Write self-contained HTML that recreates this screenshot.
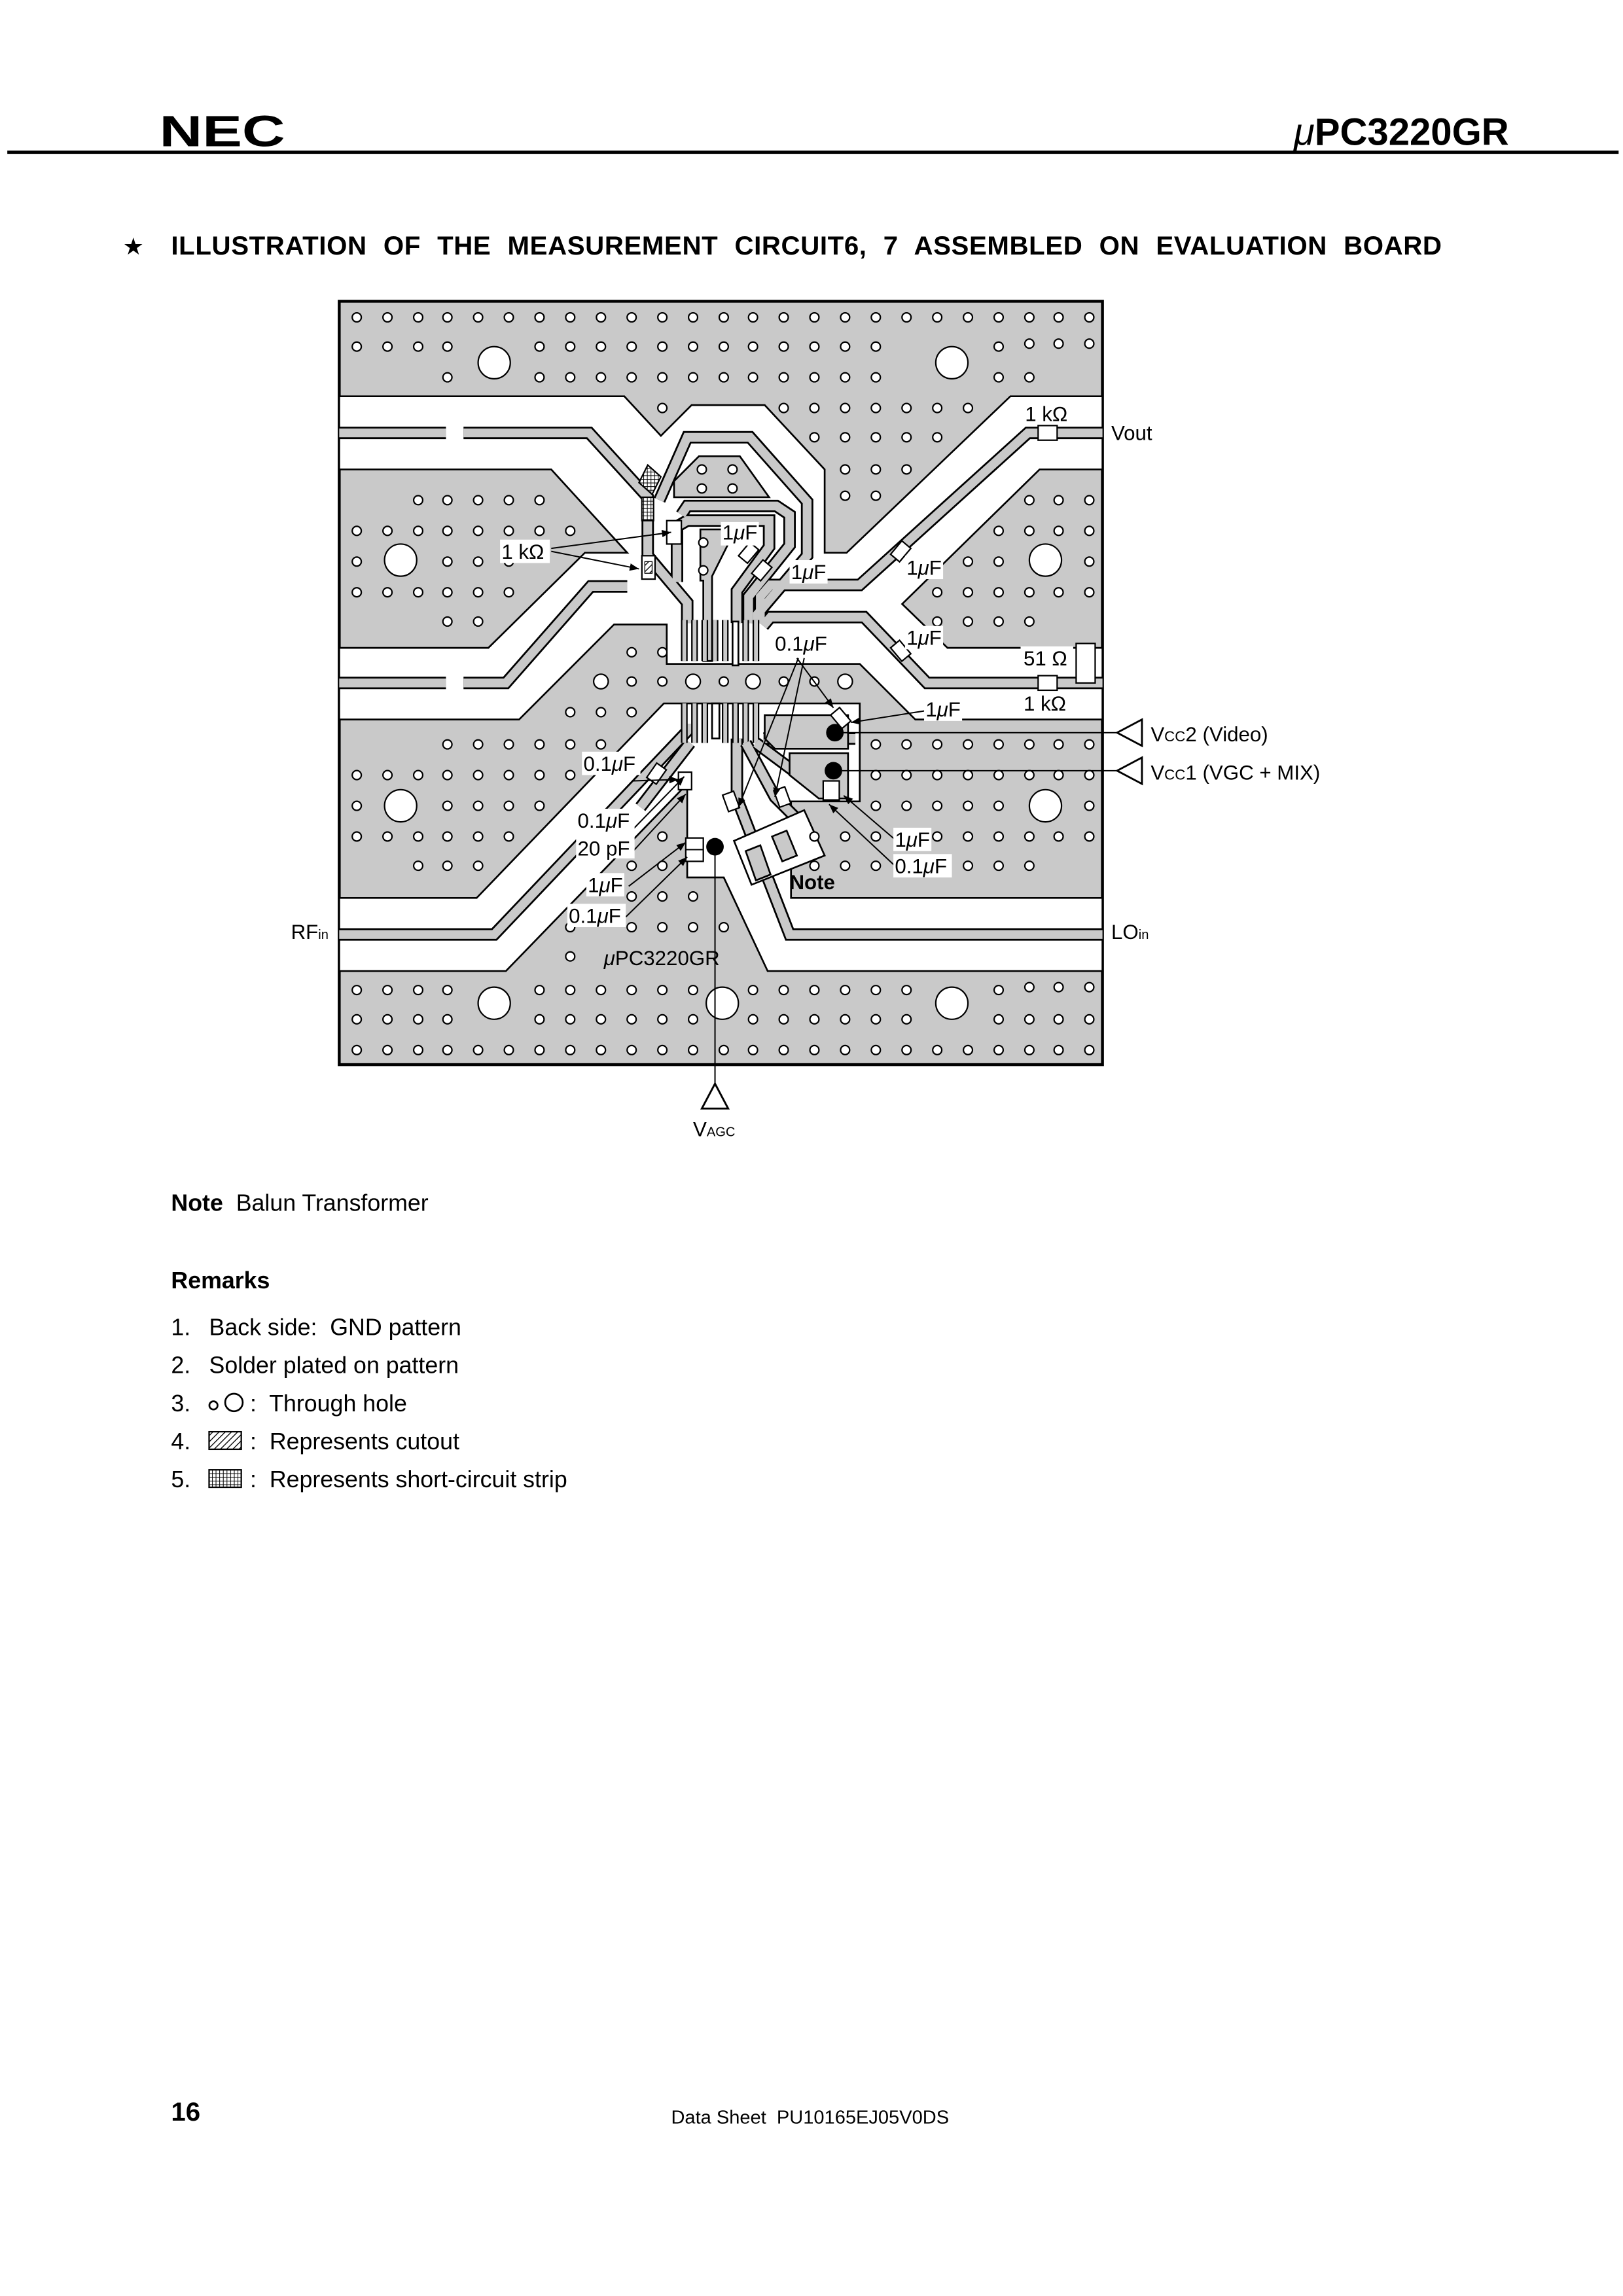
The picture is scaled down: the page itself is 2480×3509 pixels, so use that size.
<!DOCTYPE html>
<html><head><meta charset="utf-8"><style>
html,body{margin:0;padding:0;background:#fff}
svg{display:block}
text{font-family:"Liberation Sans",Arial,sans-serif;fill:#000;white-space:pre}
.g{fill:#c9c9c9;stroke:#000;stroke-width:1.2}
.w{fill:#fff;stroke:#000;stroke-width:1.2}
.h{fill:#fff;stroke:#000;stroke-width:1}
.tb{fill:none;stroke:#000;stroke-width:8.5;stroke-linejoin:miter}
.tg{fill:none;stroke:#c9c9c9;stroke-width:6;stroke-linejoin:miter}
.pb{fill:none;stroke:#000;stroke-width:4.6}
.pg{fill:none;stroke:#c9c9c9;stroke-width:2.6}
.c{fill:#fff;stroke:#000;stroke-width:1}
.ln{fill:none;stroke:#000;stroke-width:0.9}
.lb{font-size:14px}
.lw{fill:#fff}
</style></head><body>
<svg width="2480" height="3509" viewBox="0 0 1110 1570" preserveAspectRatio="none" xmlns="http://www.w3.org/2000/svg" xml:space="preserve">
<defs>
<pattern id="hat" width="3" height="3" patternUnits="userSpaceOnUse" patternTransform="rotate(45)"><rect width="3" height="3" fill="#fff"/><line x1="0" y1="0" x2="0" y2="3" stroke="#000" stroke-width="1.2"/></pattern>
<pattern id="xh" width="2.5" height="2.5" patternUnits="userSpaceOnUse"><rect width="2.5" height="2.5" fill="#fff"/><path d="M0 0H2.5M0 0V2.5" stroke="#000" stroke-width="0.9"/></pattern>
<marker id="ar" viewBox="0 0 10 10" refX="10" refY="5" markerWidth="7" markerHeight="7" orient="auto"><path d="M0 1L10 5L0 9z" fill="#000"/></marker>
<circle id="o" r="3.1" class="h"/>
<circle id="m" r="5" class="h"/>
</defs>

<!-- header -->
<text x="109" y="100" style="font-size:30px;font-weight:bold" textLength="86" lengthAdjust="spacingAndGlyphs">NEC</text>
<text x="1032" y="99" text-anchor="end" style="font-size:26px;font-weight:bold"><tspan font-style="italic" font-weight="normal">μ</tspan>PC3220GR</text>
<rect x="5" y="103" width="1102" height="2.2" fill="#000"/>
<text x="84" y="174" style="font-size:16px">★</text>
<text x="117" y="174" style="font-size:18px;font-weight:bold;word-spacing:6px" textLength="869">ILLUSTRATION OF THE MEASUREMENT CIRCUIT6, 7 ASSEMBLED ON EVALUATION BOARD</text>

<!-- board -->
<rect x="232" y="206" width="522" height="522" class="g" style="stroke-width:2"/>
<path class="w" d="M232 271H427L452 298L473 277H523L564 321V378H579L691 271H754V321H711L617 413L648 443H754V492H626L588 454H456V427H420L355 492H232V443H334L400 378H429L377 321H232Z"/>
<path class="g" d="M461 340V329L478 312H506L526 340Z"/>
<path class="w" d="M232 614H326L454 481H588V548H541V614H754V664H525L495 600H470V536L346 664H232Z"/>
<path class="g" d="M479 362H498V372L487 394V452H481V397H479Z"/>

<!-- traces -->
<g class="tb">
<path d="M232 296H305"/><path d="M317 296H403L443 340V380L470 412V426"/>
<path d="M451 342L470 299H513L552 343V380L518 420V426"/>
<path d="M466 352L470 346H531L540 352V373L512 408V426"/>
<path d="M463 398V360L470 356H526V374L504 404V426"/>
<path d="M754 296H703L588 400H527L520 408V426"/>
<path d="M754 467H634L591 422H527L522 428"/>
<path d="M232 467H305"/><path d="M317 467H346L404 401H429"/>
<path d="M232 639H338L470 500V495"/>
<path d="M754 639H540L504 546V505"/>
<path d="M438 552L472 508"/>
</g>
<g class="tg">
<path d="M232 296H305"/><path d="M317 296H403L443 340V380L470 412V426"/>
<path d="M451 342L470 299H513L552 343V380L518 420V426"/>
<path d="M466 352L470 346H531L540 352V373L512 408V426"/>
<path d="M463 398V360L470 356H526V374L504 404V426"/>
<path d="M754 296H703L588 400H527L520 408V426"/>
<path d="M754 467H634L591 422H527L522 428"/>
<path d="M232 467H305"/><path d="M317 467H346L404 401H429"/>
<path d="M232 639H338L470 500V495"/>
<path d="M754 639H540L504 546V505"/>
<path d="M438 552L472 508"/>
</g>
<g class="pb"><path d="M468 424V452M475 424V452M482 424V452M489 424V452M496 424V452M510 424V452M517 424V452M468 481V508M475 481V508M482 481V508M496 481V508M503 481V508M510 481V508M517 481V508"/></g>
<g class="pg"><path d="M468 424V452M475 424V452M482 424V452M489 424V452M496 424V452M510 424V452M517 424V452M468 481V508M475 481V508M482 481V508M496 481V508M503 481V508M510 481V508M517 481V508"/></g>
<rect x="501" y="425" width="4" height="30" class="w"/>
<rect x="487" y="481" width="5" height="24" class="w"/>
<g class="tb"><path d="M510 508L530 545L545 560"/><path d="M517 508L560 540"/><path d="M522 505H585"/></g>
<g class="tg"><path d="M510 508L530 545L545 560"/><path d="M517 508L560 540"/><path d="M522 505H585"/></g>
<path class="g" d="M523 489H580V512H530L523 505Z"/>
<path class="g" d="M540 515H580V546H560L540 530Z"/>
<path class="w" d="M502 575L550 554L564 585L514 605Z"/>
<path class="g" d="M510 582L520 578L527 598L517 602Z"/>
<path class="g" d="M528 572L538 568L545 585L535 589Z"/>

<!-- holes -->
<g id="holes">
<use href="#o" x="244" y="217"/><use href="#o" x="265" y="217"/><use href="#o" x="286" y="217"/><use href="#o" x="306" y="217"/><use href="#o" x="327" y="217"/><use href="#o" x="348" y="217"/><use href="#o" x="369" y="217"/><use href="#o" x="390" y="217"/><use href="#o" x="411" y="217"/><use href="#o" x="432" y="217"/><use href="#o" x="453" y="217"/><use href="#o" x="474" y="217"/><use href="#o" x="495" y="217"/><use href="#o" x="515" y="217"/><use href="#o" x="536" y="217"/><use href="#o" x="557" y="217"/><use href="#o" x="578" y="217"/><use href="#o" x="599" y="217"/><use href="#o" x="620" y="217"/><use href="#o" x="641" y="217"/><use href="#o" x="662" y="217"/><use href="#o" x="683" y="217"/><use href="#o" x="704" y="217"/><use href="#o" x="724" y="217"/><use href="#o" x="745" y="217"/>
<use href="#o" x="244" y="237"/><use href="#o" x="265" y="237"/><use href="#o" x="286" y="237"/><use href="#o" x="306" y="237"/><use href="#o" x="369" y="237"/><use href="#o" x="390" y="237"/><use href="#o" x="411" y="237"/><use href="#o" x="432" y="237"/><use href="#o" x="453" y="237"/><use href="#o" x="474" y="237"/><use href="#o" x="495" y="237"/><use href="#o" x="515" y="237"/><use href="#o" x="536" y="237"/><use href="#o" x="557" y="237"/><use href="#o" x="578" y="237"/><use href="#o" x="599" y="237"/><use href="#o" x="683" y="237"/><use href="#o" x="704" y="235"/><use href="#o" x="724" y="235"/><use href="#o" x="745" y="235"/>
<use href="#o" x="306" y="258"/><use href="#o" x="369" y="258"/><use href="#o" x="390" y="258"/><use href="#o" x="411" y="258"/><use href="#o" x="432" y="258"/><use href="#o" x="453" y="258"/><use href="#o" x="474" y="258"/><use href="#o" x="495" y="258"/><use href="#o" x="515" y="258"/><use href="#o" x="536" y="258"/><use href="#o" x="557" y="258"/><use href="#o" x="578" y="258"/><use href="#o" x="599" y="258"/><use href="#o" x="683" y="258"/><use href="#o" x="704" y="258"/>
<circle cx="338" cy="248" r="11" class="h"/><circle cx="651" cy="248" r="11" class="h"/>
<use href="#o" x="453" y="279"/><use href="#o" x="536" y="279"/><use href="#o" x="557" y="279"/><use href="#o" x="578" y="279"/><use href="#o" x="599" y="279"/><use href="#o" x="620" y="279"/><use href="#o" x="641" y="279"/><use href="#o" x="662" y="279"/>
<use href="#o" x="557" y="299"/><use href="#o" x="578" y="299"/><use href="#o" x="599" y="299"/><use href="#o" x="620" y="299"/><use href="#o" x="641" y="299"/>
<use href="#o" x="578" y="321"/><use href="#o" x="599" y="321"/><use href="#o" x="620" y="321"/><use href="#o" x="480" y="321"/><use href="#o" x="501" y="321"/>
<use href="#o" x="578" y="339"/><use href="#o" x="599" y="339"/><use href="#o" x="480" y="334"/><use href="#o" x="501" y="334"/>
<use href="#o" x="481" y="371"/><use href="#o" x="481" y="390"/>
<use href="#o" x="286" y="342"/><use href="#o" x="306" y="342"/><use href="#o" x="327" y="342"/><use href="#o" x="348" y="342"/><use href="#o" x="369" y="342"/>
<use href="#o" x="244" y="363"/><use href="#o" x="265" y="363"/><use href="#o" x="286" y="363"/><use href="#o" x="306" y="363"/><use href="#o" x="327" y="363"/><use href="#o" x="348" y="363"/><use href="#o" x="369" y="363"/><use href="#o" x="390" y="363"/>
<use href="#o" x="244" y="384"/><use href="#o" x="306" y="384"/><use href="#o" x="327" y="384"/><use href="#o" x="348" y="384"/>
<use href="#o" x="244" y="405"/><use href="#o" x="265" y="405"/><use href="#o" x="286" y="405"/><use href="#o" x="306" y="405"/><use href="#o" x="327" y="405"/><use href="#o" x="348" y="405"/>
<use href="#o" x="306" y="425"/><use href="#o" x="327" y="425"/>
<circle cx="274" cy="383" r="11" class="h"/>
<use href="#o" x="704" y="342"/><use href="#o" x="724" y="342"/><use href="#o" x="745" y="342"/>
<use href="#o" x="683" y="363"/><use href="#o" x="704" y="363"/><use href="#o" x="724" y="363"/><use href="#o" x="745" y="363"/>
<use href="#o" x="662" y="384"/><use href="#o" x="683" y="384"/><use href="#o" x="745" y="384"/>
<use href="#o" x="641" y="405"/><use href="#o" x="662" y="405"/><use href="#o" x="683" y="405"/><use href="#o" x="704" y="405"/><use href="#o" x="724" y="405"/><use href="#o" x="745" y="405"/>
<use href="#o" x="641" y="425"/><use href="#o" x="662" y="425"/><use href="#o" x="683" y="425"/><use href="#o" x="704" y="425"/>
<circle cx="715" cy="383" r="11" class="h"/>
<use href="#o" x="432" y="446"/><use href="#o" x="453" y="446"/>
<use href="#m" x="411" y="466"/><use href="#o" x="432" y="466"/><use href="#o" x="453" y="466"/><use href="#m" x="474" y="466"/><use href="#o" x="495" y="466"/><use href="#m" x="515" y="466"/><use href="#o" x="536" y="466"/><use href="#o" x="557" y="466"/><use href="#m" x="578" y="466"/>
<use href="#o" x="390" y="487"/><use href="#o" x="411" y="487"/><use href="#o" x="432" y="487"/>
<use href="#o" x="306" y="509"/><use href="#o" x="327" y="509"/><use href="#o" x="348" y="509"/><use href="#o" x="369" y="509"/><use href="#o" x="390" y="509"/><use href="#o" x="411" y="509"/>
<use href="#o" x="244" y="530"/><use href="#o" x="265" y="530"/><use href="#o" x="286" y="530"/><use href="#o" x="306" y="530"/><use href="#o" x="327" y="530"/><use href="#o" x="348" y="530"/><use href="#o" x="369" y="530"/><use href="#o" x="390" y="530"/>
<use href="#o" x="244" y="551"/><use href="#o" x="306" y="551"/><use href="#o" x="327" y="551"/><use href="#o" x="348" y="551"/><use href="#o" x="369" y="551"/>
<use href="#o" x="244" y="572"/><use href="#o" x="265" y="572"/><use href="#o" x="286" y="572"/><use href="#o" x="306" y="572"/><use href="#o" x="327" y="572"/><use href="#o" x="348" y="572"/>
<use href="#o" x="286" y="592"/><use href="#o" x="306" y="592"/><use href="#o" x="327" y="592"/>
<circle cx="274" cy="551" r="11" class="h"/>
<use href="#o" x="599" y="509"/><use href="#o" x="620" y="509"/><use href="#o" x="641" y="509"/><use href="#o" x="662" y="509"/><use href="#o" x="683" y="509"/><use href="#o" x="704" y="509"/><use href="#o" x="724" y="509"/><use href="#o" x="745" y="509"/>
<use href="#o" x="599" y="530"/><use href="#o" x="620" y="530"/><use href="#o" x="641" y="530"/><use href="#o" x="662" y="530"/><use href="#o" x="683" y="530"/><use href="#o" x="704" y="530"/><use href="#o" x="724" y="530"/><use href="#o" x="745" y="530"/>
<use href="#o" x="599" y="551"/><use href="#o" x="620" y="551"/><use href="#o" x="641" y="551"/><use href="#o" x="662" y="551"/><use href="#o" x="683" y="551"/><use href="#o" x="745" y="551"/>
<use href="#o" x="557" y="572"/><use href="#o" x="578" y="572"/><use href="#o" x="599" y="572"/><use href="#o" x="620" y="572"/><use href="#o" x="641" y="572"/><use href="#o" x="662" y="572"/><use href="#o" x="683" y="572"/><use href="#o" x="704" y="572"/><use href="#o" x="724" y="572"/><use href="#o" x="745" y="572"/>
<use href="#o" x="557" y="592"/><use href="#o" x="578" y="592"/><use href="#o" x="599" y="592"/><use href="#o" x="662" y="592"/><use href="#o" x="683" y="592"/><use href="#o" x="704" y="592"/>
<circle cx="715" cy="551" r="11" class="h"/>
<use href="#o" x="453" y="572"/><use href="#o" x="432" y="592"/><use href="#o" x="453" y="592"/>
<use href="#o" x="432" y="613"/><use href="#o" x="453" y="613"/><use href="#o" x="474" y="613"/>
<use href="#o" x="390" y="634"/><use href="#o" x="432" y="634"/><use href="#o" x="453" y="634"/><use href="#o" x="474" y="634"/><use href="#o" x="495" y="634"/>
<use href="#o" x="390" y="654"/>
<use href="#o" x="244" y="677"/><use href="#o" x="265" y="677"/><use href="#o" x="286" y="677"/><use href="#o" x="306" y="677"/><use href="#o" x="369" y="677"/><use href="#o" x="390" y="677"/><use href="#o" x="411" y="677"/><use href="#o" x="432" y="677"/><use href="#o" x="453" y="677"/><use href="#o" x="474" y="677"/><use href="#o" x="515" y="677"/><use href="#o" x="536" y="677"/><use href="#o" x="557" y="677"/><use href="#o" x="578" y="677"/><use href="#o" x="599" y="677"/><use href="#o" x="620" y="677"/><use href="#o" x="683" y="677"/><use href="#o" x="704" y="675"/><use href="#o" x="724" y="675"/><use href="#o" x="745" y="675"/>
<use href="#o" x="244" y="697"/><use href="#o" x="265" y="697"/><use href="#o" x="286" y="697"/><use href="#o" x="306" y="697"/><use href="#o" x="369" y="697"/><use href="#o" x="390" y="697"/><use href="#o" x="411" y="697"/><use href="#o" x="432" y="697"/><use href="#o" x="453" y="697"/><use href="#o" x="474" y="697"/><use href="#o" x="515" y="697"/><use href="#o" x="536" y="697"/><use href="#o" x="557" y="697"/><use href="#o" x="578" y="697"/><use href="#o" x="599" y="697"/><use href="#o" x="620" y="697"/><use href="#o" x="683" y="697"/><use href="#o" x="704" y="697"/><use href="#o" x="724" y="697"/><use href="#o" x="745" y="697"/>
<use href="#o" x="244" y="718"/><use href="#o" x="265" y="718"/><use href="#o" x="286" y="718"/><use href="#o" x="306" y="718"/><use href="#o" x="327" y="718"/><use href="#o" x="348" y="718"/><use href="#o" x="369" y="718"/><use href="#o" x="390" y="718"/><use href="#o" x="411" y="718"/><use href="#o" x="432" y="718"/><use href="#o" x="453" y="718"/><use href="#o" x="474" y="718"/><use href="#o" x="495" y="718"/><use href="#o" x="515" y="718"/><use href="#o" x="536" y="718"/><use href="#o" x="557" y="718"/><use href="#o" x="578" y="718"/><use href="#o" x="599" y="718"/><use href="#o" x="620" y="718"/><use href="#o" x="641" y="718"/><use href="#o" x="662" y="718"/><use href="#o" x="683" y="718"/><use href="#o" x="704" y="718"/><use href="#o" x="724" y="718"/><use href="#o" x="745" y="718"/>
<circle cx="338" cy="686" r="11" class="h"/><circle cx="494" cy="686" r="11" class="h"/><circle cx="651" cy="686" r="11" class="h"/>
</g>

<!-- components -->
<path d="M443 318L452 326L446 338L437 330Z" fill="url(#xh)" stroke="#000" stroke-width="1"/>
<rect x="439" y="340" width="8" height="16" fill="url(#xh)" stroke="#000" stroke-width="1"/>
<rect x="439" y="380" width="9" height="16" class="c"/><rect x="441" y="384" width="5" height="8" fill="url(#hat)" stroke="#000" stroke-width="0.6"/>
<rect x="456" y="356" width="10" height="16" class="c"/>
<rect x="710" y="291" width="13" height="10" class="c"/>
<rect x="710" y="462" width="13" height="10" class="c"/>
<rect x="736" y="440" width="13" height="27" class="c"/>
<rect x="-6" y="-4" width="12" height="8" class="c" transform="translate(512,378) rotate(-50)"/>
<rect x="-6" y="-4" width="12" height="8" class="c" transform="translate(521,390) rotate(-50)"/>
<rect x="-6" y="-4" width="12" height="8" class="c" transform="translate(616,377) rotate(-50)"/>
<rect x="-6" y="-4" width="12" height="8" class="c" transform="translate(616,445) rotate(50)"/>
<rect x="-6" y="-4" width="12" height="8" class="c" transform="translate(575,491) rotate(50)"/>
<rect x="-6" y="-4" width="12" height="8" class="c" transform="translate(449,529) rotate(-55)"/>
<rect x="464" y="528" width="9" height="12" class="c"/>
<rect x="469" y="573" width="12" height="16" class="c"/><line x1="469" y1="581" x2="481" y2="581" class="ln"/>
<rect x="-4" y="-6" width="8" height="12" class="c" transform="translate(500,548) rotate(-20)"/>
<rect x="-4" y="-6" width="8" height="12" class="c" transform="translate(535,545) rotate(-20)"/>
<rect x="563" y="534" width="11" height="13" class="c"/>
<circle cx="571" cy="501" r="6" fill="#000"/>
<circle cx="570" cy="527" r="6" fill="#000"/>
<circle cx="489" cy="579" r="6" fill="#000"/>

<line x1="576" y1="501" x2="764" y2="501" class="ln"/>
<line x1="576" y1="527" x2="764" y2="527" class="ln"/>
<line x1="489" y1="579" x2="489" y2="741" class="ln"/>
<path d="M764 501L781 492V510Z" fill="#fff" stroke="#000" stroke-width="1.3"/>
<path d="M764 527L781 518V536Z" fill="#fff" stroke="#000" stroke-width="1.3"/>
<path d="M489 741L480 758H498Z" fill="#fff" stroke="#000" stroke-width="1.3"/>

<g class="ln" marker-end="url(#ar)">
<line x1="377" y1="375" x2="459" y2="364"/>
<line x1="377" y1="377" x2="437" y2="389"/>
<line x1="545" y1="450" x2="570" y2="484"/>
<line x1="546" y1="450" x2="505" y2="552"/>
<line x1="550" y1="450" x2="530" y2="545"/>
<line x1="633" y1="486" x2="582" y2="494"/>
<line x1="433" y1="534" x2="464" y2="533"/>
<line x1="433" y1="567" x2="468" y2="531"/>
<line x1="433" y1="582" x2="469" y2="543"/>
<line x1="430" y1="606" x2="469" y2="576"/>
<line x1="428" y1="627" x2="470" y2="586"/>
<line x1="612" y1="574" x2="577" y2="544"/>
<line x1="612" y1="592" x2="567" y2="550"/>
</g>

<g class="lb">
<text x="701" y="288">1 kΩ</text>
<text x="760" y="301">Vout</text>
<rect x="493" y="357" width="26" height="16" class="lw"/><text x="494" y="369">1<tspan font-style="italic">μ</tspan>F</text>
<rect x="342" y="369" width="34" height="16" class="lw"/><text x="343" y="382">1 kΩ</text>
<rect x="540" y="383" width="26" height="16" class="lw"/><text x="541" y="396">1<tspan font-style="italic">μ</tspan>F</text>
<rect x="619" y="380" width="26" height="16" class="lw"/><text x="620" y="393">1<tspan font-style="italic">μ</tspan>F</text>
<rect x="619" y="428" width="26" height="16" class="lw"/><text x="620" y="441">1<tspan font-style="italic">μ</tspan>F</text>
<rect x="529" y="432" width="40" height="16" class="lw"/><text x="530" y="445">0.1<tspan font-style="italic">μ</tspan>F</text>
<rect x="698" y="442" width="36" height="16" class="lw"/><text x="700" y="455">51 Ω</text>
<text x="700" y="486">1 kΩ</text>
<rect x="632" y="477" width="26" height="16" class="lw"/><text x="633" y="490">1<tspan font-style="italic">μ</tspan>F</text>
<text x="787" y="507">V<tspan font-size="10">CC</tspan>2 (Video)</text>
<text x="787" y="533">V<tspan font-size="10">CC</tspan>1 (VGC + MIX)</text>
<rect x="398" y="514" width="40" height="16" class="lw"/><text x="399" y="527">0.1<tspan font-style="italic">μ</tspan>F</text>
<rect x="394" y="553" width="40" height="34" class="lw"/><text x="395" y="566">0.1<tspan font-style="italic">μ</tspan>F</text>
<text x="395" y="585">20 pF</text>
<rect x="611" y="566" width="26" height="16" class="lw"/><text x="612" y="579">1<tspan font-style="italic">μ</tspan>F</text>
<rect x="611" y="584" width="40" height="16" class="lw"/><text x="612" y="597">0.1<tspan font-style="italic">μ</tspan>F</text>
<rect x="401" y="597" width="26" height="16" class="lw"/><text x="402" y="610">1<tspan font-style="italic">μ</tspan>F</text>
<text x="540" y="608" font-weight="bold">Note</text>
<rect x="388" y="618" width="40" height="16" class="lw"/><text x="389" y="631">0.1<tspan font-style="italic">μ</tspan>F</text>
<text x="199" y="642">RF<tspan font-size="9">in</tspan></text>
<text x="760" y="642">LO<tspan font-size="9">in</tspan></text>
<text x="413" y="660"><tspan font-style="italic">μ</tspan>PC3220GR</text>
<text x="474" y="777">V<tspan font-size="9">AGC</tspan></text>
</g>

<g style="font-size:16px">
<text x="117" y="828"><tspan font-weight="bold">Note</tspan>  Balun Transformer</text>
<text x="117" y="881" font-weight="bold">Remarks</text>
<text x="117" y="913">1.</text><text x="143" y="913">Back side:  GND pattern</text>
<text x="117" y="939">2.</text><text x="143" y="939">Solder plated on pattern</text>
<text x="117" y="965">3.</text><text x="171" y="965">:  Through hole</text>
<text x="117" y="991">4.</text><text x="171" y="991">:  Represents cutout</text>
<text x="117" y="1017">5.</text><text x="171" y="1017">:  Represents short-circuit strip</text>
</g>
<circle cx="146" cy="961" r="2.8" fill="#fff" stroke="#000" stroke-width="1.2"/>
<circle cx="160" cy="959" r="6" fill="#fff" stroke="#000" stroke-width="1.2"/>
<rect x="143" y="979" width="22" height="12" fill="url(#hat)" stroke="#000" stroke-width="1"/>
<rect x="143" y="1005" width="22" height="12" fill="url(#xh)" stroke="#000" stroke-width="1"/>

<text x="117" y="1450" style="font-size:18px;font-weight:bold">16</text>
<text x="554" y="1452" text-anchor="middle" style="font-size:13px">Data Sheet  PU10165EJ05V0DS</text>
</svg>
</body></html>
